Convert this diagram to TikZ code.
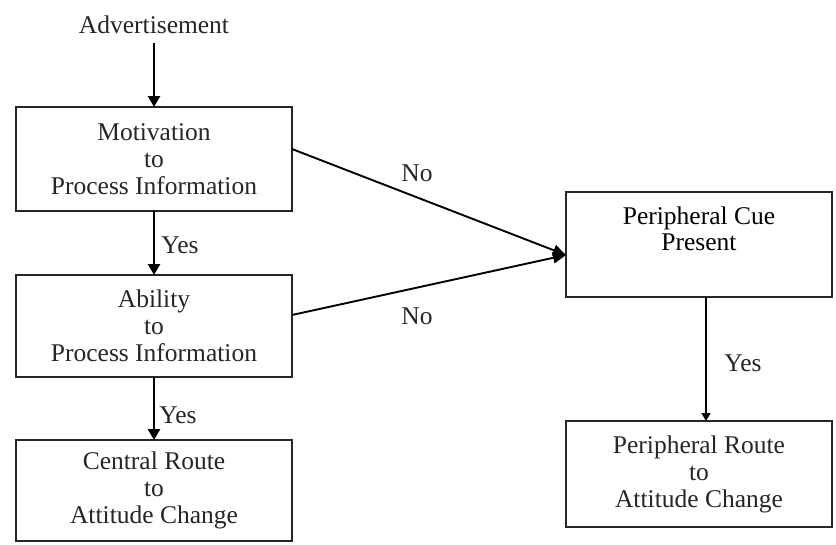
\documentclass[tikz,border=0pt]{standalone}
\usepackage{fontspec}
\setmainfont{Liberation Serif}
\usetikzlibrary{arrows.meta,calc}
\begin{document}
\begin{tikzpicture}[x=1pt,y=-1pt,
  every node/.style={font=\fontsize{25.5}{27}\selectfont, text=black!85},
  box/.style={draw=black!85, line width=1.8pt, rectangle, inner sep=0pt, outer sep=0pt, align=center},
  thickarrow/.style={line width=2.8pt, -{Triangle[length=11pt,width=12pt]}},
  diag/.style={line width=1.9pt, -{Triangle[length=13pt,width=11pt]}},
  thinarrow/.style={line width=1.3pt, -{Triangle[length=8pt,width=9pt]}},
  lbl/.style={inner sep=0pt}]
\useasboundingbox (0,0) rectangle (836,544);
\fill[white] (0,0) rectangle (836,544);

\node[lbl] (ad) at (154,25) {Advertisement};
\node[box, minimum width=276pt, minimum height=104pt] (mot) at (154,159) {Motivation\\to\\Process Information};
\node[box, minimum width=276pt, minimum height=102pt] (abl) at (154,326) {Ability\\to\\Process Information};
\node[box, minimum width=276pt, minimum height=101pt] (cen) at (154,490.5) {Central Route\\to\\Attitude Change};
\node[box, minimum width=266pt, minimum height=105pt] (cue) at (699,244.5) {};
\node[lbl, align=center, font=\fontsize{25.5}{26}\selectfont, text=black] (cuetext) at ([yshift=-37pt]cue.north) {Peripheral Cue\\Present};
\node[box, minimum width=266pt, minimum height=106pt] (per) at (699,474) {Peripheral Route\\to\\Attitude Change};

\coordinate (adend) at (154,43);
\draw[thickarrow] (adend) -- (mot.north);
\draw[thickarrow] (mot.south) -- (abl.north);
\draw[thickarrow] (abl.south) -- (cen.north);
\draw[diag] ([yshift=10pt]mot.east) -- ([yshift=-10.5pt]cue.west);
\draw[diag] ([yshift=11pt]abl.east) -- ([yshift=-10.5pt]cue.west);
\draw[thinarrow] ([xshift=7pt]cue.south) -- ([xshift=7pt]per.north);

\node[lbl] (y1) at (180,245) {Yes};
\node[lbl] (y2) at (178,415) {Yes};
\node[lbl] (y3) at (743,363) {Yes};
\node[lbl] (n1) at (417,173) {No};
\node[lbl] (n2) at (417,316) {No};
\end{tikzpicture}
\end{document}
